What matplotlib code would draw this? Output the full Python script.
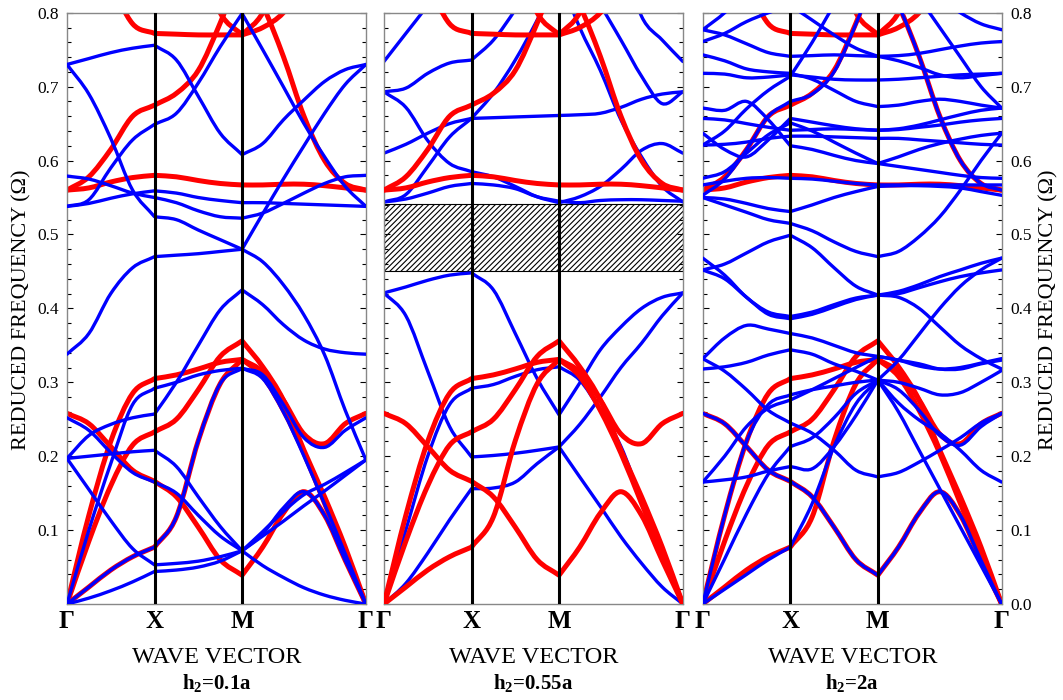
import numpy as np
import matplotlib
matplotlib.use("Agg")
import matplotlib.pyplot as plt
from matplotlib.path import Path
from matplotlib.patches import PathPatch, Rectangle

plt.rcParams["font.family"] = "Liberation Serif"
plt.rcParams["mathtext.fontset"] = "custom"
plt.rcParams["mathtext.rm"] = "Liberation Serif"
plt.rcParams["mathtext.bf"] = "Liberation Serif:bold"
plt.rcParams["hatch.linewidth"] = 0.8

# k-path sampling: quarters along Γ-X and X-M, sixths along M-Γ
k_gx = [0.0, 0.25, 0.5, 0.75, 1.0]
k_xm = [1.25, 1.5, 1.75, 2.0]
k_mg = [2 + np.sqrt(2) * j / 6 for j in range(1, 7)]
kpath = np.array(k_gx + k_xm + k_mg)
sym_k = [0.0, 1.0, 2.0, 2 + np.sqrt(2)]
sym_labels = ["Γ", "X", "M", "Γ"]

# host-lattice bands (red), identical in every panel
red_a = [0, 0.023, 0.046, 0.064, 0.077, 0.118, 0.221, 0.298, 0.331, 0.308, 0.262, 0.204, 0.136, 0.068, 0]
red_b = [0, 0.085, 0.16, 0.215, 0.233, 0.25, 0.29, 0.335, 0.356, 0.321, 0.276, 0.208, 0.145, 0.077, 0]
red_c = [0, 0.12, 0.22, 0.285, 0.305, 0.31, 0.318, 0.327, 0.331, 0.314, 0.276, 0.23, 0.217, 0.244, 0.258]
red_d = [0.258, 0.244, 0.213, 0.181, 0.166, 0.145, 0.104, 0.06, 0.039, 0.077, 0.123, 0.152, 0.12, 0.059, 0]
red_flat = [0.56, 0.563, 0.571, 0.577, 0.58, 0.578, 0.573, 0.569, 0.567, 0.567, 0.568, 0.568, 0.566, 0.563, 0.56]
red_up = [0.56, 0.578, 0.615, 0.66, 0.675, 0.691, 0.722, 0.786, 0.86, 0.81, 0.741, 0.66, 0.60, 0.569, 0.56]
red_top = [0.95, 0.9, 0.84, 0.785, 0.772, 0.771, 0.77, 0.77, 0.77, 0.78, 0.8, 0.84, 0.9, 0.95, 1.0]
red_bowl = [1.0, 1.0, 1.0, 1.0, 1.0, 0.95, 0.88, 0.8, 0.77, 0.8, 0.87, 0.95, 1.0, 1.0, 1.0]
red_bands = [red_a, red_b, red_c, red_d, red_flat, red_up, red_top, red_bowl]

# supercell bands (blue), h2 = 0.1a
p1_a = [0, 0.008, 0.018, 0.03, 0.044, 0.046, 0.05, 0.058, 0.072, 0.092, 0.112, 0.133, 0.153, 0.174, 0.195]
p1_e = [0.197, 0.155, 0.113, 0.075, 0.053, 0.055, 0.058, 0.064, 0.072, 0.052, 0.036, 0.022, 0.012, 0.005, 0]
p1_d = [0.197, 0.2, 0.203, 0.206, 0.208, 0.186, 0.145, 0.105, 0.072, 0.098, 0.125, 0.148, 0.162, 0.178, 0.195]
p1_f = [0.252, 0.235, 0.205, 0.178, 0.165, 0.15, 0.12, 0.092, 0.072, 0.095, 0.13, 0.152, 0.12, 0.059, 0]
p1_b = [0, 0.10, 0.19, 0.27, 0.292, 0.30, 0.31, 0.316, 0.319, 0.31, 0.27, 0.225, 0.212, 0.235, 0.252]
p1_i = [0, 0.023, 0.046, 0.064, 0.077, 0.118, 0.221, 0.298, 0.319, 0.305, 0.26, 0.2, 0.135, 0.068, 0]
p1_c = [0.197, 0.228, 0.243, 0.252, 0.257, 0.30, 0.35, 0.398, 0.425, 0.405, 0.378, 0.357, 0.345, 0.34, 0.338]
p1_g = [0.338, 0.366, 0.42, 0.455, 0.47, 0.472, 0.474, 0.477, 0.48, 0.463, 0.432, 0.391, 0.337, 0.262, 0.195]
p1_p = [0.73, 0.69, 0.63, 0.56, 0.524, 0.52, 0.506, 0.493, 0.48, 0.528, 0.575, 0.62, 0.664, 0.703, 0.73]
p1_q = [0.73, 0.738, 0.746, 0.752, 0.756, 0.736, 0.687, 0.637, 0.608, 0.623, 0.655, 0.682, 0.707, 0.723, 0.73]
p1_r = [0.538, 0.547, 0.59, 0.628, 0.649, 0.664, 0.705, 0.754, 0.799, 0.75, 0.7, 0.65, 0.605, 0.565, 0.538]
p1_t = [0.538, 0.542, 0.549, 0.555, 0.559, 0.556, 0.55, 0.546, 0.543, 0.543, 0.542, 0.541, 0.54, 0.539, 0.538]
p1_u = [0.579, 0.575, 0.566, 0.556, 0.55, 0.543, 0.532, 0.524, 0.522, 0.529, 0.542, 0.556, 0.569, 0.578, 0.58]
blue_p1 = [p1_a, p1_e, p1_d, p1_f, p1_b, p1_i, p1_c, p1_g, p1_p, p1_q, p1_r, p1_t, p1_u]

# supercell bands (blue), h2 = 0.55a
p2_a = [0.421, 0.39, 0.315, 0.24, 0.199, 0.201, 0.204, 0.208, 0.2125, 0.172, 0.132, 0.091, 0.055, 0.023, 0]
p2_b = [0.421, 0.429, 0.438, 0.445, 0.448, 0.425, 0.366, 0.305, 0.256, 0.299, 0.344, 0.375, 0.40, 0.415, 0.421]
p2_c = [0, 0.028, 0.069, 0.114, 0.156, 0.157, 0.165, 0.19, 0.2125, 0.243, 0.28, 0.32, 0.353, 0.39, 0.421]
p2_d = [0, 0.10, 0.20, 0.27, 0.292, 0.297, 0.308, 0.317, 0.321, 0.303, 0.262, 0.213, 0.14, 0.07, 0]
p2_f = [0.544, 0.548, 0.556, 0.565, 0.569, 0.567, 0.562, 0.551, 0.545, 0.543, 0.546, 0.547, 0.547, 0.546, 0.545]
p2_g = [0.544, 0.554, 0.592, 0.632, 0.657, 0.691, 0.736, 0.79, 0.85, 0.78, 0.722, 0.655, 0.605, 0.565, 0.544]
p2_h = [0.61, 0.622, 0.637, 0.65, 0.657, 0.658, 0.659, 0.66, 0.661, 0.662, 0.664, 0.672, 0.683, 0.69, 0.693]
p2_i = [0.693, 0.672, 0.627, 0.596, 0.585, 0.578, 0.565, 0.551, 0.543, 0.551, 0.565, 0.588, 0.614, 0.623, 0.61]
p2_j = [0.693, 0.698, 0.718, 0.732, 0.736, 0.763, 0.804, 0.85, 0.9, 0.93, 0.95, 0.95, 0.95, 0.95, 0.95]
p2_k = [0.734, 0.772, 0.81, 0.85, 0.88, 0.9, 0.92, 0.94, 0.95, 0.95, 0.92, 0.88, 0.795, 0.763, 0.734]
p2_l = [0.9, 0.9, 0.9, 0.9, 0.9, 0.9, 0.9, 0.9, 0.9, 0.85, 0.81, 0.763, 0.714, 0.677, 0.693]
blue_p2 = [p2_a, p2_b, p2_c, p2_d, p2_f, p2_g, p2_h, p2_i, p2_j, p2_k, p2_l]
gap_lo, gap_hi = 0.45, 0.541

# supercell bands (blue), h2 = 2a
p3_01 = [0, 0.02, 0.04, 0.06, 0.077, 0.136, 0.213, 0.271, 0.303, 0.26, 0.208, 0.156, 0.104, 0.052, 0]
p3_02 = [0.258, 0.244, 0.213, 0.181, 0.166, 0.145, 0.104, 0.06, 0.039, 0.077, 0.123, 0.152, 0.12, 0.059, 0]
p3_03 = [0, 0.061, 0.122, 0.176, 0.213, 0.225, 0.252, 0.285, 0.303, 0.29, 0.262, 0.228, 0.215, 0.24, 0.258]
p3_04 = [0, 0.12, 0.22, 0.27, 0.283, 0.29, 0.295, 0.3, 0.303, 0.272, 0.249, 0.231, 0.208, 0.181, 0.165]
p3_05 = [0.165, 0.168, 0.172, 0.18, 0.186, 0.183, 0.213, 0.255, 0.303, 0.33, 0.365, 0.40, 0.43, 0.452, 0.468]
p3_06 = [0.165, 0.2, 0.24, 0.265, 0.276, 0.29, 0.305, 0.32, 0.335, 0.33, 0.325, 0.318, 0.318, 0.325, 0.33]
p3_07 = [0.332, 0.315, 0.29, 0.262, 0.245, 0.231, 0.208, 0.181, 0.172, 0.178, 0.192, 0.208, 0.225, 0.245, 0.258]
p3_08 = [0.318, 0.321, 0.327, 0.337, 0.344, 0.338, 0.325, 0.315, 0.303, 0.3, 0.292, 0.283, 0.286, 0.3, 0.316]
p3_09 = [0.332, 0.36, 0.377, 0.372, 0.366, 0.36, 0.35, 0.34, 0.335, 0.33, 0.322, 0.318, 0.32, 0.326, 0.332]
p3_10 = [0.468, 0.445, 0.415, 0.395, 0.389, 0.395, 0.405, 0.414, 0.418, 0.42, 0.428, 0.436, 0.443, 0.448, 0.452]
p3_11 = [0.452, 0.44, 0.415, 0.392, 0.386, 0.392, 0.402, 0.412, 0.418, 0.415, 0.4, 0.375, 0.35, 0.332, 0.318]
p3_12 = [0.452, 0.46, 0.475, 0.49, 0.499, 0.482, 0.455, 0.43, 0.418, 0.423, 0.432, 0.443, 0.452, 0.461, 0.468]
p3_13 = [0.55, 0.54, 0.53, 0.52, 0.515, 0.505, 0.49, 0.477, 0.47, 0.477, 0.497, 0.524, 0.56, 0.6, 0.637]
p3_14 = [0.55, 0.548, 0.542, 0.535, 0.531, 0.54, 0.55, 0.558, 0.565, 0.566, 0.566, 0.565, 0.563, 0.558, 0.553]
p3_15 = [0.553, 0.575, 0.615, 0.66, 0.68, 0.69, 0.72, 0.785, 0.86, 0.81, 0.741, 0.66, 0.60, 0.569, 0.56]
p3_16 = [0.567, 0.572, 0.576, 0.577, 0.576, 0.575, 0.572, 0.569, 0.567, 0.567, 0.567, 0.567, 0.567, 0.567, 0.567]
p3_17 = [0.576, 0.585, 0.61, 0.635, 0.651, 0.64, 0.625, 0.61, 0.596, 0.605, 0.615, 0.623, 0.629, 0.634, 0.637]
p3_18 = [0.621, 0.622, 0.625, 0.63, 0.633, 0.633, 0.632, 0.631, 0.63, 0.63, 0.628, 0.626, 0.624, 0.622, 0.621]
p3_19 = [0.637, 0.615, 0.605, 0.628, 0.657, 0.652, 0.647, 0.643, 0.641, 0.642, 0.645, 0.648, 0.652, 0.655, 0.657]
p3_20 = [0.657, 0.655, 0.65, 0.645, 0.641, 0.642, 0.643, 0.642, 0.641, 0.643, 0.648, 0.655, 0.662, 0.668, 0.671]
p3_21 = [0.671, 0.668, 0.68, 0.655, 0.62, 0.615, 0.607, 0.6, 0.596, 0.592, 0.588, 0.584, 0.58, 0.577, 0.576]
p3_22 = [0.718, 0.717, 0.712, 0.713, 0.716, 0.713, 0.71, 0.709, 0.709, 0.71, 0.712, 0.714, 0.716, 0.717, 0.718]
p3_23 = [0.743, 0.735, 0.724, 0.72, 0.718, 0.71, 0.695, 0.68, 0.673, 0.675, 0.68, 0.683, 0.68, 0.675, 0.671]
p3_24 = [0.761, 0.772, 0.788, 0.80, 0.81, 0.79, 0.77, 0.752, 0.741, 0.735, 0.726, 0.716, 0.712, 0.715, 0.718]
p3_25 = [0.777, 0.77, 0.758, 0.746, 0.741, 0.742, 0.743, 0.742, 0.741, 0.742, 0.745, 0.75, 0.755, 0.759, 0.761]
p3_26 = [0.777, 0.8, 0.83, 0.86, 0.88, 0.9, 0.9, 0.9, 0.9, 0.88, 0.85, 0.82, 0.80, 0.785, 0.777]
p3_27 = [0.621, 0.64, 0.67, 0.695, 0.714, 0.76, 0.81, 0.85, 0.88, 0.86, 0.82, 0.78, 0.74, 0.70, 0.671]
blue_p3 = [p3_01, p3_02, p3_03, p3_04, p3_05, p3_06, p3_07, p3_08, p3_09, p3_10, p3_11, p3_12, p3_13, p3_14,
           p3_15, p3_16, p3_17, p3_18, p3_19, p3_20, p3_21, p3_22, p3_23, p3_24, p3_25, p3_26, p3_27]

panel_titles = ["0.1a", "0.55a", "2a"]
yticks = [0.0, 0.1, 0.2, 0.3, 0.4, 0.5, 0.6, 0.7, 0.8]

RED = "#ff0000"
BLUE = "#0000ff"


def band_path(k, w):
    """Smooth cubic path through the samples, kinked at X and M."""
    pts = np.column_stack([k, w])
    verts, codes = [tuple(pts[0])], [Path.MOVETO]
    for a, b in [(0, 4), (4, 8), (8, 14)]:
        seg = pts[a:b + 1]
        n = len(seg)
        for i in range(n - 1):
            p0 = seg[i - 1] if i > 0 else 2 * seg[0] - seg[1]
            p1, p2 = seg[i], seg[i + 1]
            p3 = seg[i + 2] if i + 2 < n else 2 * seg[-1] - seg[-2]
            verts += [tuple(p1 + (p2 - p0) / 6), tuple(p2 - (p3 - p1) / 6), tuple(p2)]
            codes += [Path.CURVE4] * 3
    return Path(verts, codes)


def draw_band(ax, w, color, lw, z):
    ax.add_patch(PathPatch(band_path(kpath, w), fill=False, edgecolor=color, lw=lw,
                           capstyle="round", joinstyle="round", zorder=z))


fig = plt.figure(figsize=(10.63, 7.0), dpi=100)
lefts = [0.0630, 0.3612, 0.6611]
axes = [fig.add_axes([l, 0.1371, 0.2812, 0.8447]) for l in lefts]

for idx, (ax, blues) in enumerate(zip(axes, [blue_p1, blue_p2, blue_p3])):
    red_z, blue_z = (3, 2) if idx == 1 else (2, 3)
    for w in red_bands:
        draw_band(ax, w, RED, 3.6, red_z)
    for w in blues:
        draw_band(ax, w, BLUE, 2.4, blue_z)

    if idx == 1:
        ax.add_patch(Rectangle((0, gap_lo), sym_k[-1], gap_hi - gap_lo, facecolor="white",
                               edgecolor="black", hatch="//////", lw=0.8, zorder=1.5))

    for xv in sym_k[1:3]:
        ax.axvline(xv, color="black", lw=2.2, zorder=5)

    ax.set_xlim(0, sym_k[-1])
    ax.set_ylim(0, 0.8)
    ax.set_xticks(sym_k)
    ax.set_xticklabels(sym_labels, fontsize=18, fontweight="bold")
    ax.tick_params(axis="x", length=0, pad=4)
    ax.set_yticks(yticks)
    ax.set_yticks(np.arange(0, 0.801, 0.02), minor=True)
    ax.tick_params(axis="y", which="both", direction="in", left=True, right=True,
                   labelleft=False, labelright=False, labelsize=12.5, pad=6)
    ax.tick_params(axis="y", which="major", length=4, width=0.8)
    ax.tick_params(axis="y", which="minor", length=3, width=0.8)
    for sp in ax.spines.values():
        sp.set_edgecolor("#888888")
        sp.set_linewidth(1.0)

    ax.text(0.5, -0.0896, "WAVE VECTOR", transform=ax.transAxes, ha="center", va="center",
            fontsize=17.5)
    ax.text(0.5, -0.1336, r"$\mathbf{h_2}$" + "=" + panel_titles[idx], transform=ax.transAxes,
            ha="center", va="center", fontsize=15, fontweight="bold")

# left panel: labels 0.1..0.8 on the left; right panel: 0.0..0.8 on the right
axes[0].tick_params(axis="y", labelleft=True)
axes[0].set_yticks(yticks[1:])
axes[0].set_yticklabels([f"{v:.1f}" for v in yticks[1:]])
axes[2].tick_params(axis="y", labelright=True)
axes[2].set_yticklabels([f"{v:.1f}" for v in yticks])

fig.text(22 / 1063, 1 - 310 / 700, "REDUCED FREQUENCY (Ω)", rotation=90, ha="center",
         va="center", fontsize=16)
fig.text(1049 / 1063, 1 - 310 / 700, "REDUCED FREQUENCY (Ω)", rotation=90, ha="center",
         va="center", fontsize=16)

fig.savefig("out.png", dpi=100)
plt.close(fig)
